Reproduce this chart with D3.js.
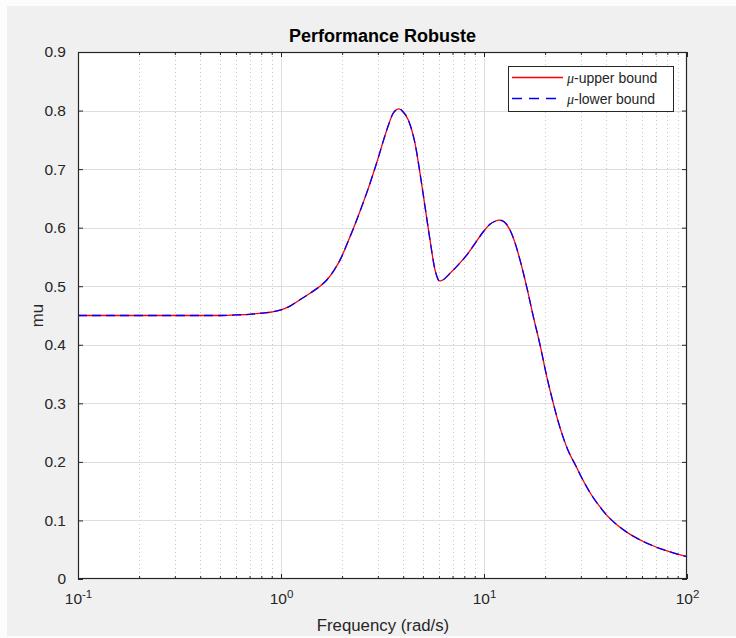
<!DOCTYPE html>
<html>
<head>
<meta charset="utf-8">
<script src="https://cdn.jsdelivr.net/npm/d3@7/dist/d3.min.js"></script>
<style>
  html, body { margin: 0; padding: 0; background: #fcfcfc; }
  svg { display: block; }
  text { font-family: "Liberation Sans", Arial, Helvetica, sans-serif; }
</style>
</head>
<body>
<svg id="chart" width="736" height="638"></svg>
<script>
// Frequency grid (rad/s) and structured singular value bounds
const freq = [0.1, 0.2, 0.3, 0.4, 0.5, 0.6, 0.7, 0.8, 0.9, 0.99, 1.107, 1.24, 1.39, 1.556, 1.685, 1.824, 1.975, 2.114, 2.288, 2.45, 2.623, 2.808, 3.005, 3.217, 3.404, 3.562, 3.686, 3.826, 3.99, 4.238, 4.395, 4.573, 4.839, 5.122, 5.42, 5.737, 5.902, 6.024, 6.212, 6.801, 7.445, 8.219, 9.031, 9.922, 10.7, 11.33, 11.9, 12.55, 13.43, 14.22, 15.04, 16.23, 17.5, 18.88, 20.37, 21.95, 23.15, 24.59, 26.22, 28.08, 30.29, 33.93, 37.28, 40.22, 44.69, 50.47, 60.93, 76.44, 100];
const muUpper = [0.450, 0.450, 0.450, 0.450, 0.450, 0.451, 0.452, 0.454, 0.456, 0.459, 0.466, 0.477, 0.488, 0.500, 0.511, 0.527, 0.548, 0.572, 0.601, 0.628, 0.656, 0.686, 0.718, 0.752, 0.778, 0.795, 0.801, 0.803, 0.798, 0.784, 0.768, 0.744, 0.693, 0.636, 0.579, 0.528, 0.514, 0.509, 0.510, 0.522, 0.536, 0.553, 0.573, 0.593, 0.606, 0.611, 0.613, 0.610, 0.596, 0.574, 0.545, 0.499, 0.448, 0.400, 0.346, 0.300, 0.270, 0.241, 0.216, 0.196, 0.173, 0.143, 0.123, 0.109, 0.094, 0.080, 0.064, 0.050, 0.038];
const muLower = [0.450, 0.450, 0.450, 0.450, 0.450, 0.451, 0.452, 0.454, 0.456, 0.459, 0.466, 0.477, 0.488, 0.500, 0.511, 0.527, 0.548, 0.572, 0.601, 0.628, 0.656, 0.686, 0.718, 0.752, 0.778, 0.795, 0.801, 0.803, 0.798, 0.784, 0.768, 0.744, 0.693, 0.636, 0.579, 0.528, 0.514, 0.509, 0.510, 0.522, 0.536, 0.553, 0.573, 0.593, 0.606, 0.611, 0.613, 0.610, 0.596, 0.574, 0.545, 0.499, 0.448, 0.400, 0.346, 0.300, 0.270, 0.241, 0.216, 0.196, 0.173, 0.143, 0.123, 0.109, 0.094, 0.080, 0.064, 0.050, 0.038];

// Axis ticks
const xMajor = [0.1, 1, 10, 100];
const xMajorExp = ["-1", "0", "1", "2"];
const yTicks = [0, 0.1, 0.2, 0.3, 0.4, 0.5, 0.6, 0.7, 0.8, 0.9];
const yTickLabels = ["0", "0.1", "0.2", "0.3", "0.4", "0.5", "0.6", "0.7", "0.8", "0.9"];

const seriesNames = ["-upper bound", "-lower bound"];

const svg = d3.select("#chart");
const W = 736, H = 638;
const pLeft = 78, pRight = 687, pTop = 52, pBottom = 579;
const ink = "#262626";

// figure background
svg.append("rect").attr("x", 7).attr("y", 6).attr("width", W - 7).attr("height", H - 8).attr("fill", "#f0f0f0");
// axes background
svg.append("rect").attr("x", pLeft).attr("y", pTop).attr("width", pRight - pLeft).attr("height", pBottom - pTop).attr("fill", "#ffffff");

const x = d3.scaleLog().domain([0.1, 100]).range([pLeft, pRight]);
const y = d3.scaleLinear().domain([0, 0.9]).range([pBottom, pTop]);

// minor decade values
const xMinor = [];
for (let e = -1; e < 2; e++) {
  for (let k = 2; k <= 9; k++) xMinor.push(k * Math.pow(10, e));
}

// grid
const grid = svg.append("g");
grid.selectAll(".minor").data(xMinor).enter().append("line")
  .attr("x1", d => Math.round(x(d)) + 0.5).attr("x2", d => Math.round(x(d)) + 0.5)
  .attr("y1", pTop).attr("y2", pBottom)
  .attr("stroke", "#c8c8c8").attr("stroke-width", 1).attr("stroke-dasharray", "1,3");
grid.selectAll(".ymaj").data(yTicks.slice(1, -1)).enter().append("line")
  .attr("x1", pLeft).attr("x2", pRight)
  .attr("y1", d => Math.round(y(d)) + 0.5).attr("y2", d => Math.round(y(d)) + 0.5)
  .attr("stroke", "#dedede").attr("stroke-width", 1);
grid.selectAll(".xmaj").data(xMajor.slice(1, -1)).enter().append("line")
  .attr("x1", d => Math.round(x(d)) + 0.5).attr("x2", d => Math.round(x(d)) + 0.5)
  .attr("y1", pTop).attr("y2", pBottom)
  .attr("stroke", "#dedede").attr("stroke-width", 1);

// curves: upper bound solid red, lower bound dashed blue on top
const pts = (vals) => freq.map((f, i) => [f, vals[i]]);
const line = d3.line().x(d => x(d[0])).y(d => y(d[1])).curve(d3.curveMonotoneX);

svg.append("path").datum(pts(muUpper)).attr("d", line)
  .attr("fill", "none").attr("stroke", "#ff0000").attr("stroke-width", 1.3);
svg.append("path").datum(pts(muLower)).attr("d", line)
  .attr("fill", "none").attr("stroke", "#0000ff").attr("stroke-width", 1.3)
  .attr("stroke-dasharray", "9,5");

// axes (inward ticks on all four sides)
function styleAxis(g) {
  g.select(".domain").remove();
  g.selectAll(".tick line").attr("stroke", ink).attr("stroke-width", 1);
  g.selectAll("text").attr("fill", ink);
}

const bottomAxis = d3.axisBottom(x).tickValues(xMajor).tickSize(-5).tickPadding(14).tickFormat(() => "");
const gB = svg.append("g").attr("transform", `translate(0,${pBottom})`).call(bottomAxis);
styleAxis(gB);
gB.selectAll(".tick text").each(function(d) {
  const t = d3.select(this).attr("font-size", "15.5px").attr("dy", "0.71em");
  t.append("tspan").text("10");
  t.append("tspan").attr("font-size", "11.5px").attr("dy", "-0.55em").text(xMajorExp[xMajor.indexOf(d)]);
});
svg.append("g").attr("transform", `translate(0,${pBottom})`)
  .call(d3.axisBottom(x).tickValues(xMinor).tickSize(-3).tickFormat(() => "")).call(styleAxis);

const gT = svg.append("g").attr("transform", `translate(0,${pTop})`)
  .call(d3.axisTop(x).tickValues(xMajor).tickSize(-5).tickFormat(() => ""));
styleAxis(gT);
svg.append("g").attr("transform", `translate(0,${pTop})`)
  .call(d3.axisTop(x).tickValues(xMinor).tickSize(-3).tickFormat(() => "")).call(styleAxis);

const gL = svg.append("g").attr("transform", `translate(${pLeft},0)`)
  .call(d3.axisLeft(y).tickValues(yTicks).tickSize(-5).tickPadding(12)
    .tickFormat((d, i) => yTickLabels[i]));
styleAxis(gL);
gL.selectAll(".tick text").attr("font-size", "15.5px");

const gR = svg.append("g").attr("transform", `translate(${pRight},0)`)
  .call(d3.axisRight(y).tickValues(yTicks).tickSize(-5).tickFormat(() => ""));
styleAxis(gR);

// axes box
svg.append("rect").attr("x", pLeft + 0.5).attr("y", pTop + 0.5)
  .attr("width", pRight - pLeft - 1).attr("height", pBottom - pTop - 1)
  .attr("fill", "none").attr("stroke", ink).attr("stroke-width", 1.2);

// labels
svg.append("text").attr("x", (pLeft + pRight) / 2).attr("y", 42)
  .attr("text-anchor", "middle").attr("font-size", "18px").attr("font-weight", "bold")
  .attr("fill", "#000").text("Performance Robuste");
svg.append("text").attr("x", (pLeft + pRight) / 2 + 0.5).attr("y", 631)
  .attr("text-anchor", "middle").attr("font-size", "16.8px").attr("fill", ink)
  .text("Frequency (rad/s)");
svg.append("text").attr("transform", `translate(43,${(pTop + pBottom) / 2}) rotate(-90)`)
  .attr("text-anchor", "middle").attr("font-size", "16.8px").attr("fill", ink)
  .text("mu");

// legend
const lg = svg.append("g");
lg.append("rect").attr("x", 508.5).attr("y", 66.5).attr("width", 165).attr("height", 45)
  .attr("fill", "#ffffff").attr("stroke", ink).attr("stroke-width", 1);
const legendItems = [
  { name: seriesNames[0], color: "#ff0000", dash: null },
  { name: seriesNames[1], color: "#0000ff", dash: "10,7" }
];
const rows = lg.selectAll(".row").data(legendItems).enter().append("g")
  .attr("transform", (d, i) => `translate(0,${77.5 + i * 21})`);
rows.append("line").attr("x1", 512).attr("x2", 563).attr("y1", 0).attr("y2", 0)
  .attr("stroke", d => d.color).attr("stroke-width", 1.3)
  .attr("stroke-dasharray", d => d.dash);
const lt = rows.append("text").attr("x", 567).attr("y", 5.5)
  .attr("font-size", "14px").attr("fill", ink);
lt.append("tspan").attr("font-family", "'Liberation Serif', 'Times New Roman', serif")
  .attr("font-style", "italic").text("\u03bc");
lt.append("tspan").text(d => d.name);
</script>
</body>
</html>
